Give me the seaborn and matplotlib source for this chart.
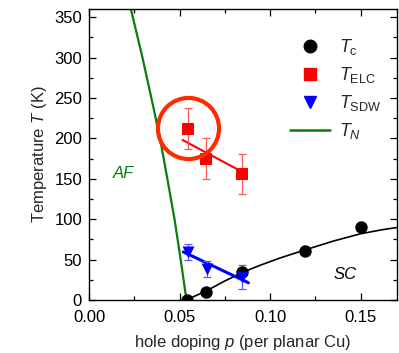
import matplotlib
matplotlib.use("Agg")
import matplotlib.pyplot as plt
import seaborn as sns
import pandas as pd
from matplotlib.lines import Line2D
from matplotlib.ticker import MultipleLocator

# ---- data ----
tc_p = [0.054, 0.0646, 0.0845, 0.1193, 0.150]
tc_T = [0, 10, 35, 61, 90]

tc_curve_p = [0.0536, 0.0646, 0.0745, 0.0845, 0.0945, 0.1055, 0.1193, 0.135, 0.150, 0.162, 0.171]
tc_curve_T = [0, 11, 23, 34, 43, 52, 62, 73, 82, 87, 90]

elc_p = [0.0547, 0.0646, 0.0847]
elc_T = [212, 175, 156]
elc_err = [25, 25, 25]
elc_fit_p = [0.0516, 0.0850]
elc_fit_T = [198, 158]

sdw_p = [0.0549, 0.065, 0.0844]
sdw_T = [59, 38, 28]
sdw_err = [10, 10, 15]
sdw_fit_p = [0.0521, 0.088]
sdw_fit_T = [59.5, 21.3]

tn_p = [0.0231, 0.0293, 0.0354, 0.0401, 0.0442, 0.0472, 0.0506, 0.0538]
tn_T = [360, 302, 240, 189, 138, 100, 50, 0]

highlight_p = [0.0547]
highlight_T = [213]

legend_labels = [r"$T_{\mathrm{c}}$", r"$T_{\mathrm{ELC}}$", r"$T_{\mathrm{SDW}}$", r"$T_N$"]

# ---- style ----
sns.set_theme(style="ticks")
plt.rcParams["font.family"] = ["Liberation Sans", "DejaVu Sans"]
plt.rcParams["mathtext.fontset"] = "custom"
plt.rcParams["mathtext.rm"] = "Liberation Sans"
plt.rcParams["mathtext.it"] = "Liberation Sans:italic"
plt.rcParams["mathtext.bf"] = "Liberation Sans:bold"
plt.rcParams["mathtext.sf"] = "Liberation Sans"

fig = plt.figure(figsize=(3.99, 3.53), dpi=100)
ax = fig.add_axes([89 / 399, 53 / 353, 308 / 399, 291 / 353])

RED = "#ff0000"
BLUE = "#0000ff"
GREEN = "#0a7d0a"

# lines
sns.lineplot(x=tc_curve_p, y=tc_curve_T, sort=False, color="black", lw=1.2, ax=ax, zorder=2)
sns.lineplot(x=tn_p, y=tn_T, sort=False, color=GREEN, lw=1.6, ax=ax, zorder=2)
sns.lineplot(x=elc_fit_p, y=elc_fit_T, sort=False, color=RED, lw=1.5, ax=ax, zorder=3)
sns.lineplot(x=sdw_fit_p, y=sdw_fit_T, sort=False, color=BLUE, lw=2.2, ax=ax, zorder=3)

# error bars
ax.errorbar(elc_p, elc_T, yerr=elc_err, fmt="none", ecolor="#ff5a5a", elinewidth=0.9,
            capsize=3, capthick=0.9, zorder=3)
ax.errorbar(sdw_p, sdw_T, yerr=sdw_err, fmt="none", ecolor="#5a5aff", elinewidth=0.9,
            capsize=3, capthick=0.9, zorder=3)

# markers
sns.scatterplot(x=tc_p, y=tc_T, color="black", marker="o", s=80, edgecolor="black",
                linewidth=0, ax=ax, zorder=4)
sns.scatterplot(x=elc_p, y=elc_T, color=RED, marker="s", s=65, edgecolor=RED,
                linewidth=0, ax=ax, zorder=4)
sns.scatterplot(x=sdw_p, y=sdw_T, color=BLUE, marker="v", s=75, edgecolor=BLUE,
                linewidth=0, ax=ax, zorder=4)

# highlight circle
ax.plot(highlight_p, highlight_T, marker="o", markersize=44, markerfacecolor="none",
        markeredgecolor="#ff2a00", markeredgewidth=3.0, linestyle="none", zorder=5)

# annotations
ax.text(0.019, 157, "AF", color=GREEN, fontsize=12, style="italic", ha="center", va="center")
ax.text(0.1414, 31, "SC", color="black", fontsize=12, style="italic", ha="center", va="center")

ax.set_xlim(0, 0.17)
ax.set_ylim(0, 360)
ax.xaxis.set_major_locator(MultipleLocator(0.05))
ax.xaxis.set_minor_locator(MultipleLocator(0.025))
ax.yaxis.set_major_locator(MultipleLocator(50))
ax.yaxis.set_minor_locator(MultipleLocator(25))
ax.xaxis.set_major_formatter(matplotlib.ticker.FormatStrFormatter("%.2f"))

ax.tick_params(which="both", direction="in", top=True, right=True, labelsize=12,
               colors="black", width=0.9)
ax.tick_params(axis="x", which="both", pad=7)
ax.tick_params(axis="y", which="both", pad=5)
ax.tick_params(which="major", length=5)
ax.tick_params(which="minor", length=3)
for s in ax.spines.values():
    s.set_linewidth(1.0)
    s.set_color("black")

ax.set_xlabel(r"hole doping $p$ (per planar Cu)", fontsize=12, labelpad=6)
ax.set_ylabel(r"Temperature $T$ (K)", fontsize=12)

handles = [
    Line2D([], [], marker="o", color="black", linestyle="none", markersize=9),
    Line2D([], [], marker="s", color=RED, linestyle="none", markersize=8),
    Line2D([], [], marker="v", color=BLUE, linestyle="none", markersize=9),
    Line2D([], [], color=GREEN, lw=1.8),
]
leg = ax.legend(handles, legend_labels, loc="upper left", bbox_to_anchor=(0.6, 0.96),
                frameon=False, fontsize=13, handlelength=2.2, labelspacing=0.45,
                handletextpad=0.5)

fig.savefig("out.png", dpi=100)
